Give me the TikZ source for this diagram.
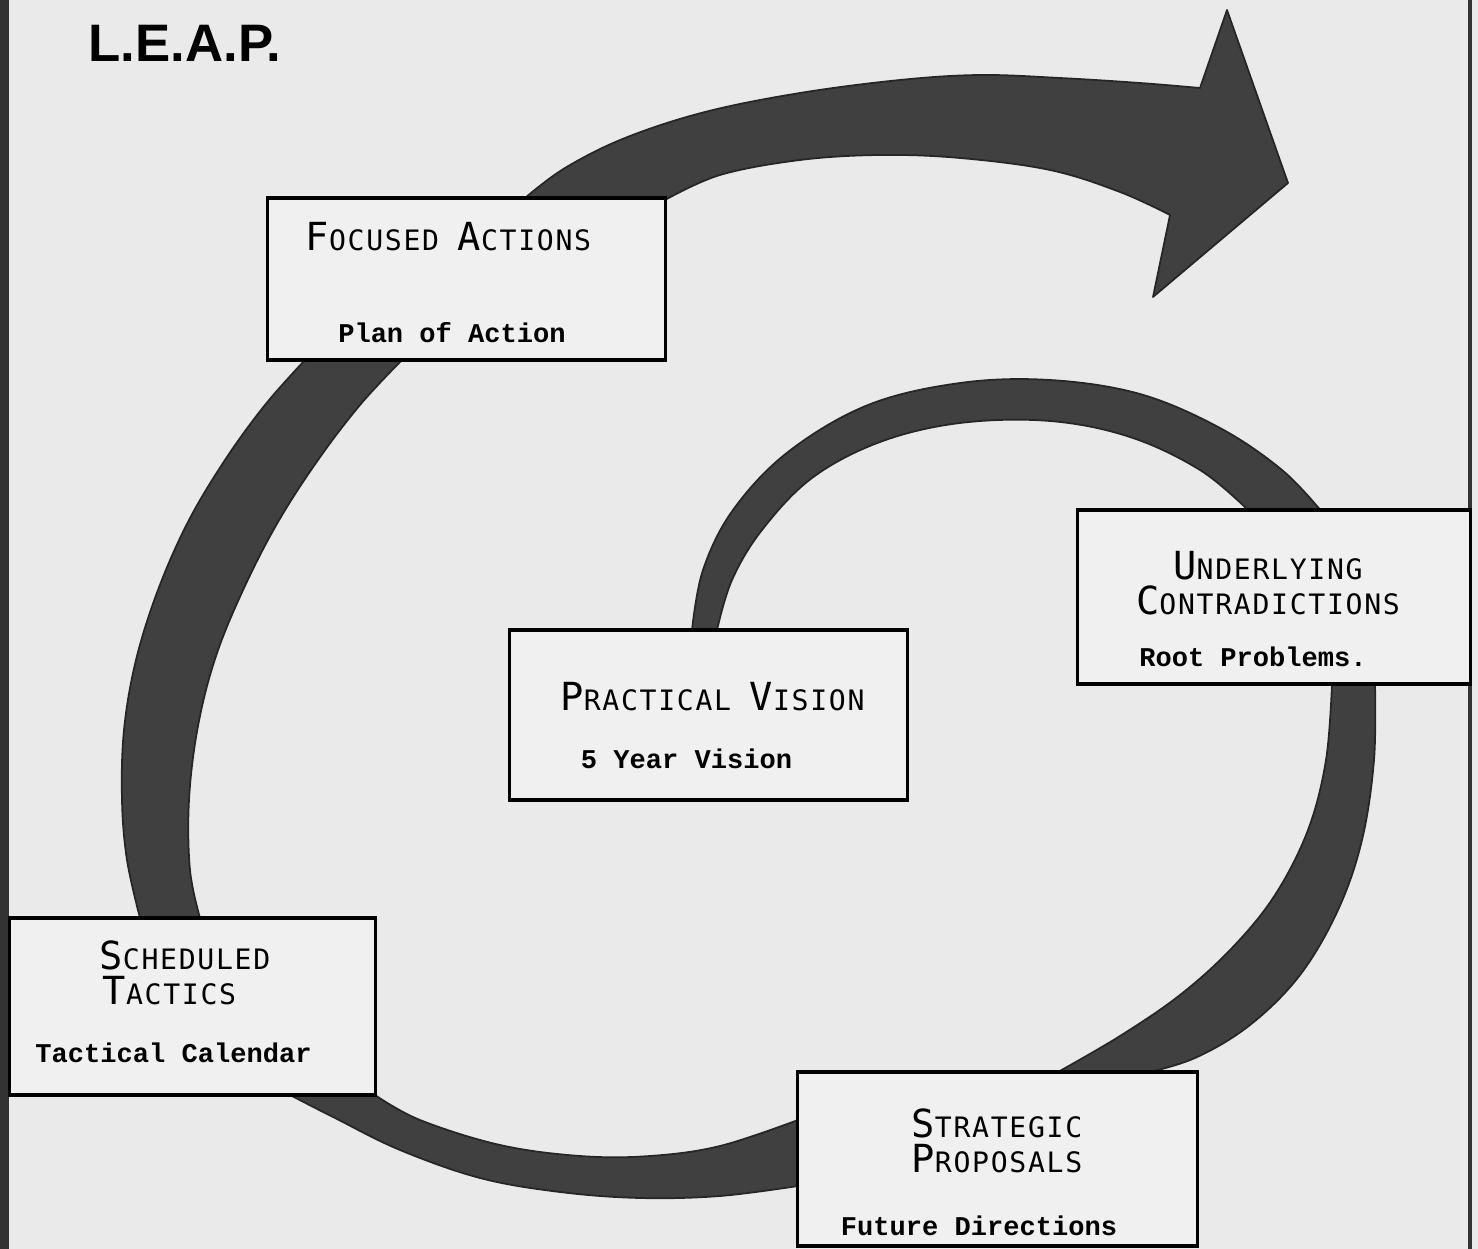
\documentclass[tikz,border=0pt]{standalone}
\usepackage{fontspec}
\usepackage{xcolor}
\newfontfamily\leapfont{Liberation Sans}
\newfontfamily\capfont[LetterSpace=6]{DejaVu Sans Mono}
\newfontfamily\typefont{Liberation Mono}
\definecolor{paper}{RGB}{234,234,234}
\definecolor{band}{RGB}{64,64,64}
\definecolor{boxfill}{RGB}{240,240,240}

\newcommand\capword[2]{{\fontsize{11}{12}\selectfont #1}{\fontsize{8}{12}\selectfont #2}}

\tikzset{
  stage/.style={draw=black, line width=0.9pt, fill=boxfill, inner sep=0pt},
  heading/.style={font=\capfont\fontsize{8}{9.9}\selectfont, align=center, anchor=north, inner sep=0pt},
  caption/.style={font=\typefont\bfseries\fontsize{7.7}{9}\selectfont, anchor=base, inner sep=0pt},
}

\begin{document}
\begin{tikzpicture}[x=0.01cm,y=-0.01cm]
\fill[paper] (0,0) rectangle (1478,1249);
\useasboundingbox (0,0) rectangle (1478,1249);
% scanned page edges
\fill[black!80] (0,0) rectangle (9,1249);
\draw[black!80, line width=1pt] (1470,0) -- (1470,1249);

% spiral band
\filldraw[fill=band, draw=black!85, line width=0.5pt, line join=round]
  plot[smooth, tension=0.6] coordinates {(692,630) (703,570) (733,510) (788,452) (868,405) (960,383) (1050,380) (1140,394) (1220,428) (1282,470) (1322,512)}
  -- plot[smooth, tension=0.6] coordinates {(1375,684) (1374,760) (1362,840) (1338,910) (1300,975) (1250,1025) (1195,1058) (1142,1074)}
  -- plot[smooth, tension=0.6] coordinates {(798,1186) (720,1196) (640,1198) (560,1192) (480,1178) (400,1150) (335,1118) (290,1095)}
  -- plot[smooth, tension=0.6] coordinates {(140,918) (127,860) (122,800) (124,730) (136,660) (158,590) (188,522) (225,460) (265,405) (305,360)}
  -- plot[smooth, tension=0.6] coordinates {(525,198) (565,168) (625,138) (705,112) (800,93) (900,80) (980,75) (1060,78) (1140,83) (1200,88)}
  -- (1227,10) -- (1288,183) -- (1153,297)
  -- plot[smooth, tension=0.6] coordinates {(1170,215) (1120,192) (1050,170) (960,158) (880,155) (800,160) (720,175) (665,200)}
  -- plot[smooth, tension=0.6] coordinates {(400,362) (360,405) (318,460) (278,522) (244,588) (216,656) (198,726) (189,800) (190,870) (200,918)}
  -- plot[smooth, tension=0.6] coordinates {(375,1095) (420,1120) (500,1145) (580,1156) (650,1156) (720,1146) (798,1120)}
  -- plot[smooth, tension=0.6] coordinates {(1058,1072) (1120,1036) (1180,995) (1232,948) (1275,895) (1308,830) (1326,760) (1332,684)}
  -- plot[smooth, tension=0.6] coordinates {(1248,510) (1200,470) (1130,437) (1050,421) (960,423) (880,442) (812,478) (762,530) (732,580) (717,630)}
  -- cycle;

% stages
\node[stage, minimum width=3.97cm, minimum height=1.62cm] (fa) at (466.5,279) {};
\node[stage, minimum width=3.97cm, minimum height=1.70cm] (pv) at (708.5,715) {};
\node[stage, minimum width=3.92cm, minimum height=1.74cm] (uc) at (1274,597) {};
\node[stage, minimum width=3.65cm, minimum height=1.77cm] (st) at (192.5,1006.5) {};
\node[stage, minimum width=3.99cm, minimum height=1.74cm] (sp) at (997.5,1159) {};

% labels
\node[font=\leapfont\bfseries\fontsize{15}{18}\selectfont, anchor=base, inner sep=0pt] (leap) at (185,62) {L.E.A.P.};

\node[heading] (fa-title) at (448.5,222) {\capword{F}{OCUSED} \capword{A}{CTIONS}};
\node[caption] (fa-sub) at (452,343) {Plan of Action};

\node[heading] (pv-title) at (712.5,682) {\capword{P}{RACTICAL} \capword{V}{ISION}};
\node[caption] (pv-sub) at (686.5,768) {5 Year Vision};

\node[heading] (uc-title) at (1268,551) {\capword{U}{NDERLYING}\\\capword{C}{ONTRADICTIONS}};
\node[caption] (uc-sub) at (1253,667) {Root Problems.};

\node[heading] (st-title) at (185,940) {\capword{S}{CHEDULED}\\\capword{T}{ACTICS}\hspace*{1.1em}};
\node[caption] (st-sub) at (173.5,1062) {Tactical Calendar};

\node[heading] (sp-title) at (997,1108) {\capword{S}{TRATEGIC}\\\capword{P}{ROPOSALS}};
\node[caption] (sp-sub) at (979,1235) {Future Directions};
\end{tikzpicture}
\end{document}
